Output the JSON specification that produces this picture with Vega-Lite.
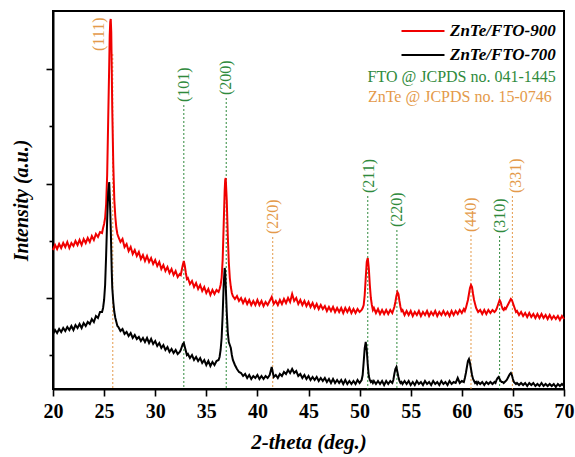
{
  "$schema": "https://vega.github.io/schema/vega-lite/v6.json",
  "width": 511,
  "height": 378,
  "autosize": {"type": "none"},
  "padding": {"left": 53, "top": 11, "right": 11, "bottom": 68},
  "background": "white",
  "config": {
    "view": {"stroke": "black", "strokeWidth": 2},
    "font": "Liberation Serif",
    "axis": {"domainColor": "black", "domainWidth": 2, "tickColor": "black", "tickWidth": 1.6, "grid": false, "labelFont": "Liberation Serif", "titleFont": "Liberation Serif", "labelColor": "black", "titleColor": "black"}
  },
  "datasets": {
    "xrd": [
      {"x":20.0,"r":150,"b":66},{"x":20.2,"r":155,"b":70},{"x":20.4,"r":151,"b":67},{"x":20.6,"r":156,"b":71},{"x":20.8,"r":152,"b":68},
      {"x":21.0,"r":157,"b":72},{"x":21.2,"r":153,"b":69},{"x":21.4,"r":158,"b":73},{"x":21.6,"r":152,"b":70},{"x":21.8,"r":157,"b":74},
      {"x":22.0,"r":154,"b":70},{"x":22.2,"r":159,"b":75},{"x":22.4,"r":155,"b":72},{"x":22.6,"r":160,"b":76},{"x":22.8,"r":155,"b":72},
      {"x":23.0,"r":161,"b":77},{"x":23.2,"r":157,"b":74},{"x":23.4,"r":162,"b":78},{"x":23.6,"r":158,"b":76},{"x":23.8,"r":164,"b":81},
      {"x":24.0,"r":160,"b":78},{"x":24.2,"r":166,"b":84},{"x":24.4,"r":163,"b":82},{"x":24.6,"r":168,"b":88},
      {"x":24.8,"r":167,"b":88},{"x":24.9,"r":172,"b":92},{"x":25.0,"r":176,"b":100},{"x":25.1,"r":182,"b":115},{"x":25.2,"r":196,"b":145},
      {"x":25.3,"r":225,"b":180},{"x":25.4,"r":280,"b":208},{"x":25.5,"r":335,"b":218},{"x":25.55,"r":365,"b":205},{"x":25.6,"r":378,"b":190},
      {"x":25.65,"r":381,"b":172},{"x":25.7,"r":368,"b":150},{"x":25.75,"r":330,"b":128},{"x":25.8,"r":290,"b":112},{"x":25.9,"r":235,"b":98},
      {"x":26.0,"r":200,"b":88},{"x":26.1,"r":183,"b":82},{"x":26.2,"r":172,"b":78},{"x":26.3,"r":166,"b":74},
      {"x":26.4,"r":163,"b":73},{"x":26.6,"r":158,"b":69},{"x":26.8,"r":161,"b":71},{"x":27.0,"r":153,"b":66},{"x":27.2,"r":156,"b":68},
      {"x":27.4,"r":149,"b":64},{"x":27.6,"r":153,"b":67},{"x":27.8,"r":146,"b":62},{"x":28.0,"r":150,"b":65},{"x":28.2,"r":144,"b":61},
      {"x":28.4,"r":148,"b":63},{"x":28.6,"r":141,"b":59},{"x":28.8,"r":145,"b":62},{"x":29.0,"r":139,"b":58},{"x":29.2,"r":144,"b":62},
      {"x":29.4,"r":138,"b":57},{"x":29.6,"r":142,"b":61},{"x":29.8,"r":136,"b":56},{"x":30.0,"r":140,"b":59},{"x":30.2,"r":134,"b":54},
      {"x":30.4,"r":138,"b":57},{"x":30.6,"r":131,"b":52},{"x":30.8,"r":135,"b":55},{"x":31.0,"r":129,"b":50},{"x":31.2,"r":133,"b":53},
      {"x":31.4,"r":127,"b":48},{"x":31.6,"r":131,"b":51},{"x":31.8,"r":125,"b":47},{"x":32.0,"r":129,"b":50},{"x":32.2,"r":123,"b":46},
      {"x":32.4,"r":126,"b":48},{"x":32.5,"r":125,"b":50},{"x":32.6,"r":130,"b":53},{"x":32.7,"r":135,"b":56},{"x":32.8,"r":139,"b":57},
      {"x":32.9,"r":134,"b":53},{"x":33.0,"r":127,"b":49},{"x":33.1,"r":121,"b":45},
      {"x":33.2,"r":122,"b":46},{"x":33.4,"r":116,"b":42},{"x":33.6,"r":119,"b":45},{"x":33.8,"r":113,"b":40},{"x":34.0,"r":117,"b":43},
      {"x":34.2,"r":111,"b":39},{"x":34.4,"r":115,"b":42},{"x":34.6,"r":109,"b":37},{"x":34.8,"r":113,"b":40},{"x":35.0,"r":107,"b":35},
      {"x":35.2,"r":111,"b":39},{"x":35.4,"r":105,"b":34},{"x":35.6,"r":110,"b":38},{"x":35.8,"r":106,"b":35},{"x":36.0,"r":110,"b":39},
      {"x":36.2,"r":108,"b":40},{"x":36.3,"r":111,"b":43},{"x":36.4,"r":115,"b":50},{"x":36.5,"r":122,"b":62},{"x":36.6,"r":140,"b":85},
      {"x":36.7,"r":175,"b":115},{"x":36.8,"r":210,"b":132},{"x":36.85,"r":220,"b":128},{"x":36.9,"r":222,"b":115},{"x":37.0,"r":200,"b":88},
      {"x":37.1,"r":165,"b":68},{"x":37.2,"r":138,"b":58},{"x":37.3,"r":122,"b":55},{"x":37.4,"r":113,"b":52},{"x":37.5,"r":107,"b":45},
      {"x":37.6,"r":104,"b":40},
      {"x":37.8,"r":101,"b":35},{"x":38.0,"r":104,"b":31},{"x":38.2,"r":99,"b":28},{"x":38.4,"r":102,"b":27},{"x":38.6,"r":97,"b":24},
      {"x":38.8,"r":101,"b":26},{"x":39.0,"r":96,"b":22},{"x":39.2,"r":100,"b":25},{"x":39.4,"r":95,"b":21},{"x":39.6,"r":99,"b":24},
      {"x":39.8,"r":95,"b":22},{"x":40.0,"r":100,"b":25},{"x":40.2,"r":95,"b":21},{"x":40.4,"r":99,"b":24},{"x":40.6,"r":94,"b":21},
      {"x":40.8,"r":98,"b":24},{"x":41.0,"r":95,"b":22},{"x":41.2,"r":99,"b":25},{"x":41.4,"r":103,"b":33},{"x":41.6,"r":96,"b":23},
      {"x":41.8,"r":99,"b":25},{"x":42.0,"r":95,"b":22},{"x":42.2,"r":100,"b":26},{"x":42.4,"r":96,"b":24},{"x":42.6,"r":101,"b":28},
      {"x":42.8,"r":97,"b":26},{"x":43.0,"r":102,"b":30},{"x":43.2,"r":98,"b":27},{"x":43.4,"r":106,"b":31},{"x":43.6,"r":99,"b":27},
      {"x":43.8,"r":102,"b":29},{"x":44.0,"r":96,"b":24},{"x":44.2,"r":100,"b":26},{"x":44.4,"r":95,"b":22},{"x":44.6,"r":99,"b":25},
      {"x":44.8,"r":94,"b":21},{"x":45.0,"r":98,"b":24},{"x":45.2,"r":93,"b":20},{"x":45.4,"r":97,"b":23},{"x":45.6,"r":92,"b":20},
      {"x":45.8,"r":96,"b":23},{"x":46.0,"r":91,"b":19},{"x":46.2,"r":95,"b":22},{"x":46.4,"r":91,"b":19},{"x":46.6,"r":94,"b":22},
      {"x":46.8,"r":89,"b":18},{"x":47.0,"r":93,"b":21},{"x":47.2,"r":89,"b":17},{"x":47.4,"r":93,"b":21},{"x":47.6,"r":88,"b":17},
      {"x":47.8,"r":92,"b":20},{"x":48.0,"r":88,"b":17},{"x":48.2,"r":92,"b":20},{"x":48.4,"r":87,"b":16},{"x":48.6,"r":92,"b":20},
      {"x":48.8,"r":88,"b":16},{"x":49.0,"r":92,"b":19},{"x":49.2,"r":87,"b":16},{"x":49.4,"r":91,"b":19},{"x":49.6,"r":87,"b":16},
      {"x":49.8,"r":91,"b":20},{"x":50.0,"r":88,"b":17},{"x":50.2,"r":90,"b":20},
      {"x":50.3,"r":92,"b":25},{"x":50.4,"r":95,"b":38},{"x":50.5,"r":105,"b":52},{"x":50.6,"r":122,"b":58},{"x":50.7,"r":138,"b":50},
      {"x":50.8,"r":142,"b":35},{"x":50.9,"r":132,"b":24},{"x":51.0,"r":115,"b":20},{"x":51.1,"r":102,"b":18},{"x":51.2,"r":95,"b":19},
      {"x":51.3,"r":90,"b":17},
      {"x":51.4,"r":92,"b":19},{"x":51.6,"r":87,"b":16},{"x":51.8,"r":91,"b":19},{"x":52.0,"r":86,"b":16},{"x":52.2,"r":90,"b":19},
      {"x":52.4,"r":86,"b":15},{"x":52.6,"r":90,"b":19},{"x":52.8,"r":86,"b":16},{"x":53.0,"r":90,"b":19},{"x":53.2,"r":87,"b":17},
      {"x":53.3,"r":90,"b":20},{"x":53.4,"r":93,"b":26},{"x":53.5,"r":98,"b":31},{"x":53.6,"r":104,"b":33},{"x":53.7,"r":108,"b":28},
      {"x":53.8,"r":106,"b":23},{"x":53.9,"r":99,"b":19},{"x":54.0,"r":93,"b":17},{"x":54.1,"r":89,"b":18},{"x":54.2,"r":90,"b":16},
      {"x":54.4,"r":85,"b":19},{"x":54.6,"r":89,"b":16},{"x":54.8,"r":85,"b":19},{"x":55.0,"r":89,"b":15},{"x":55.2,"r":84,"b":18},
      {"x":55.4,"r":88,"b":15},{"x":55.6,"r":85,"b":19},{"x":55.8,"r":89,"b":16},{"x":56.0,"r":84,"b":18},{"x":56.2,"r":88,"b":15},
      {"x":56.4,"r":85,"b":19},{"x":56.6,"r":89,"b":16},{"x":56.8,"r":84,"b":18},{"x":57.0,"r":88,"b":15},{"x":57.2,"r":85,"b":19},
      {"x":57.4,"r":89,"b":16},{"x":57.6,"r":84,"b":18},{"x":57.8,"r":88,"b":15},{"x":58.0,"r":85,"b":19},{"x":58.2,"r":89,"b":16},
      {"x":58.4,"r":85,"b":18},{"x":58.6,"r":88,"b":15},{"x":58.8,"r":84,"b":19},{"x":59.0,"r":89,"b":16},{"x":59.2,"r":85,"b":18},
      {"x":59.4,"r":89,"b":17},{"x":59.6,"r":86,"b":22},{"x":59.8,"r":90,"b":17},{"x":60.0,"r":87,"b":19},{"x":60.2,"r":91,"b":18},
      {"x":60.3,"r":89,"b":22},{"x":60.4,"r":92,"b":27},{"x":60.5,"r":96,"b":33},{"x":60.6,"r":100,"b":39},{"x":60.7,"r":106,"b":41},
      {"x":60.8,"r":112,"b":37},{"x":60.9,"r":115,"b":31},{"x":61.0,"r":113,"b":25},{"x":61.1,"r":106,"b":21},{"x":61.2,"r":100,"b":19},
      {"x":61.3,"r":96,"b":17},{"x":61.4,"r":92,"b":18},{"x":61.5,"r":90,"b":16},{"x":61.6,"r":88,"b":18},
      {"x":61.8,"r":90,"b":16},{"x":62.0,"r":86,"b":18},{"x":62.2,"r":90,"b":15},{"x":62.4,"r":86,"b":18},{"x":62.6,"r":90,"b":16},
      {"x":62.8,"r":87,"b":18},{"x":63.0,"r":90,"b":16},{"x":63.2,"r":88,"b":18},
      {"x":63.3,"r":89,"b":17},{"x":63.4,"r":91,"b":20},{"x":63.5,"r":94,"b":22},{"x":63.6,"r":97,"b":23},{"x":63.7,"r":100,"b":21},
      {"x":63.8,"r":98,"b":19},{"x":63.9,"r":94,"b":18},{"x":64.0,"r":91,"b":18},{"x":64.1,"r":90,"b":17},{"x":64.2,"r":92,"b":18},
      {"x":64.3,"r":91,"b":19},{"x":64.4,"r":93,"b":20},{"x":64.5,"r":95,"b":22},{"x":64.6,"r":97,"b":24},{"x":64.7,"r":99,"b":26},
      {"x":64.8,"r":101,"b":27},{"x":64.9,"r":100,"b":25},{"x":65.0,"r":97,"b":21},{"x":65.1,"r":94,"b":18},{"x":65.2,"r":91,"b":17},
      {"x":65.3,"r":88,"b":16},{"x":65.4,"r":89,"b":17},
      {"x":65.6,"r":85,"b":15},{"x":65.8,"r":88,"b":17},{"x":66.0,"r":84,"b":15},{"x":66.2,"r":87,"b":17},{"x":66.4,"r":83,"b":14},
      {"x":66.6,"r":87,"b":17},{"x":66.8,"r":83,"b":15},{"x":67.0,"r":86,"b":17},{"x":67.2,"r":82,"b":14},{"x":67.4,"r":86,"b":16},
      {"x":67.6,"r":82,"b":14},{"x":67.8,"r":86,"b":17},{"x":68.0,"r":82,"b":14},{"x":68.2,"r":85,"b":16},{"x":68.4,"r":81,"b":14},
      {"x":68.6,"r":85,"b":16},{"x":68.8,"r":81,"b":14},{"x":69.0,"r":84,"b":16},{"x":69.2,"r":81,"b":13},{"x":69.4,"r":84,"b":16},
      {"x":69.6,"r":80,"b":14},{"x":69.8,"r":84,"b":16},{"x":70.0,"r":81,"b":14}
    ],
    "refs": [
      {"pos":25.85,"lx":24.5,"top":346,"hkl":"(111)","phase":"ZnTe"},
      {"pos":32.8,"lx":32.8,"top":295,"hkl":"(101)","phase":"FTO"},
      {"pos":36.95,"lx":36.95,"top":302,"hkl":"(200)","phase":"FTO"},
      {"pos":41.5,"lx":41.5,"top":163,"hkl":"(220)","phase":"ZnTe"},
      {"pos":50.8,"lx":50.9,"top":204,"hkl":"(211)","phase":"FTO"},
      {"pos":53.65,"lx":53.65,"top":170,"hkl":"(220)","phase":"FTO"},
      {"pos":60.9,"lx":60.9,"top":165,"hkl":"(440)","phase":"ZnTe"},
      {"pos":63.7,"lx":63.7,"top":164,"hkl":"(310)","phase":"FTO"},
      {"pos":64.95,"lx":65.3,"top":204,"hkl":"(331)","phase":"ZnTe"}
    ],
    "notes": [
      {"x":69.2,"y":323,"label":"FTO @ JCPDS no. 041-1445","phase":"FTO"},
      {"x":68.8,"y":303,"label":"ZnTe @ JCPDS no. 15-0746","phase":"ZnTe"}
    ]
  },
  "layer": [
    {
      "data": {"name": "refs"},
      "mark": {"type": "rule", "strokeDash": [2, 2], "strokeWidth": 1},
      "encoding": {
        "x": {"field": "pos", "type": "quantitative", "scale": {"domain": [20, 70], "nice": false, "zero": false}, "title": "2-theta (deg.)"},
        "y": {"field": "top", "type": "quantitative", "scale": {"domain": [11, 389], "nice": false, "zero": false}, "title": "Intensity (a.u.)"},
        "y2": {"datum": 11},
        "stroke": {"field": "phase", "type": "nominal", "scale": {"domain": ["FTO", "ZnTe"], "range": ["#2f8a3c", "#e49a4a"]}, "legend": null}
      }
    },
    {
      "data": {"name": "refs"},
      "mark": {"type": "text", "angle": 270, "align": "left", "baseline": "middle", "dx": 3, "fontSize": 16, "font": "Liberation Serif"},
      "encoding": {
        "x": {"field": "lx", "type": "quantitative", "title": "2-theta (deg.)"},
        "y": {"field": "top", "type": "quantitative", "title": "Intensity (a.u.)"},
        "text": {"field": "hkl"},
        "fill": {"field": "phase", "type": "nominal", "scale": {"domain": ["FTO", "ZnTe"], "range": ["#2f8a3c", "#e49a4a"]}, "legend": null}
      }
    },
    {
      "data": {"name": "xrd"},
      "mark": {"type": "line", "strokeWidth": 2},
      "encoding": {
        "x": {"field": "x", "type": "quantitative", "title": "2-theta (deg.)",
          "axis": {"values": [20, 22.5, 25, 27.5, 30, 32.5, 35, 37.5, 40, 42.5, 45, 47.5, 50, 52.5, 55, 57.5, 60, 62.5, 65, 67.5, 70],
            "labelExpr": "datum.value % 5 === 0 ? datum.label : ''",
            "tickSize": {"condition": {"test": "datum.value % 5 === 0", "value": 7}, "value": 4},
            "labelFlush": false, "labelOverlap": false, "labelFontSize": 20, "labelFontWeight": "bold", "labelPadding": 5,
            "titleFontSize": 21, "titleFontWeight": "bold", "titleFontStyle": "italic", "titlePadding": 10}},
        "y": {"field": "r", "type": "quantitative", "title": "Intensity (a.u.)",
          "axis": {"values": [44.75, 102, 159.25, 216.5, 273.75, 331], "labels": false,
            "tickSize": {"condition": {"test": "datum.value > 300 || (datum.value > 200 && datum.value < 230) || (datum.value > 90 && datum.value < 110)", "value": 7}, "value": 4},
            "titleFontSize": 20, "titleFontWeight": "bold", "titleFontStyle": "italic", "titlePadding": 14}},
        "color": {"datum": "ZnTe/FTO-900", "type": "nominal",
          "scale": {"domain": ["ZnTe/FTO-900", "ZnTe/FTO-700"], "range": ["#f00000", "#000000"]},
          "legend": {"title": null, "orient": "none", "legendX": 358, "legendY": 8, "padding": 0,
            "symbolType": "M-2,0H2", "symbolSize": 462, "symbolStrokeWidth": 2,
            "labelFont": "Liberation Serif", "labelFontSize": 17, "labelFontWeight": "bold", "labelFontStyle": "italic", "labelColor": "black",
            "labelOffset": 15, "rowPadding": 4, "labelLimit": 300}}
      }
    },
    {
      "data": {"name": "xrd"},
      "mark": {"type": "line", "strokeWidth": 2},
      "encoding": {
        "x": {"field": "x", "type": "quantitative", "title": "2-theta (deg.)"},
        "y": {"field": "b", "type": "quantitative", "title": "Intensity (a.u.)"},
        "color": {"datum": "ZnTe/FTO-700", "type": "nominal"}
      }
    },
    {
      "data": {"name": "notes"},
      "mark": {"type": "text", "align": "right", "baseline": "middle", "fontSize": 16, "font": "Liberation Serif"},
      "encoding": {
        "x": {"field": "x", "type": "quantitative", "title": "2-theta (deg.)"},
        "y": {"field": "y", "type": "quantitative", "title": "Intensity (a.u.)"},
        "text": {"field": "label"},
        "fill": {"field": "phase", "type": "nominal", "legend": null}
      }
    }
  ]
}
